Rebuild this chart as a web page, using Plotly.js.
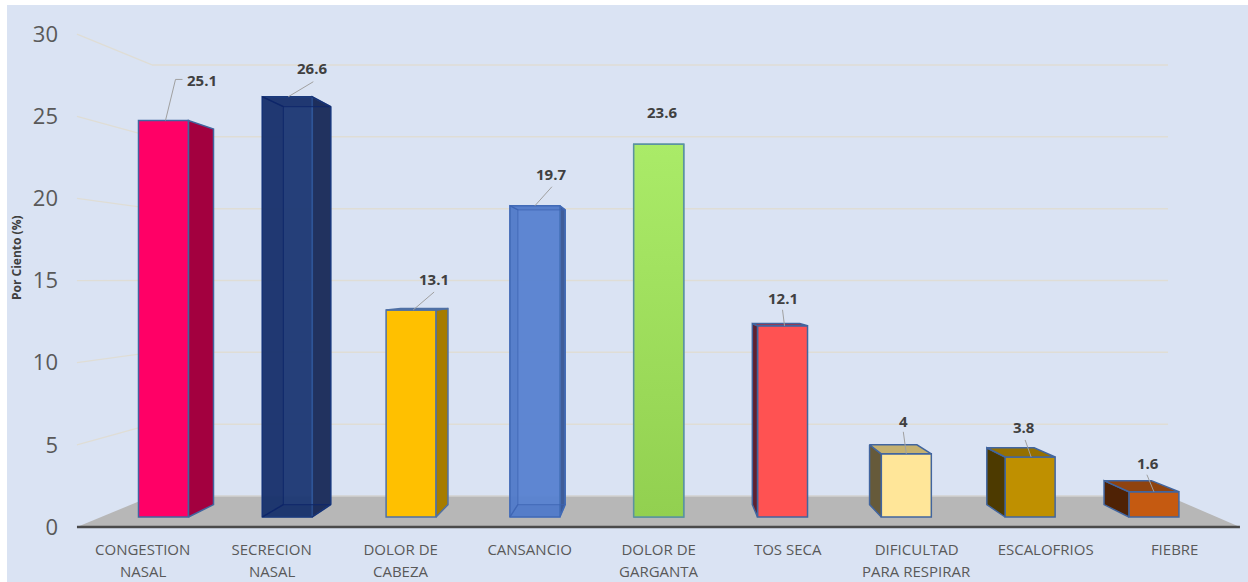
<!DOCTYPE html>
<html>
<head>
<meta charset="utf-8">
<script src="https://cdn.plot.ly/plotly-3.0.1.min.js"></script>
<style>html,body{margin:0;padding:0;background:#fff}#chart{width:1248px;height:582px}</style>
</head>
<body>
<div id="chart"></div>
<script>
// ---- data ----
var labelLine1 = ["CONGESTION","SECRECION","DOLOR DE","CANSANCIO","DOLOR DE","TOS SECA","DIFICULTAD","ESCALOFRIOS","FIEBRE"];
var labelLine2 = ["NASAL","NASAL","CABEZA","","GARGANTA","","PARA RESPIRAR","",""];
var values = [25.1,26.6,13.1,19.7,23.6,12.1,4,3.8,1.6];
var tickValues = [0,5,10,15,20,25,30];
// ---- styles ----
var frontColors = ["#FF0066","rgba(29,56,116,0.96)","#FFC000","rgba(88,130,208,0.96)","#A0DF5C","#FF5252","#FFE699","#BF9000","#C55A11"];
var sideColors  = ["#A3003F","#21325F","#A67C00","#3F5D99","#92D050","#5F2030","#665A3A","#4D3A00","#4F2205"];
var topColors   = ["#C00050","#1B3175","#C49400","#4A6FB5","#A9EA66","#A83040","#C4B06F","#957000","#8F430F"];
var borderColors= ["#41659F","#2F5597","#4F70A5","#4A75BE","#5B93A0","#41659F","#41659F","#41659F","#41659F"];
var innerLine   = [null,"rgba(14,38,105,0.75)",null,"rgba(62,100,178,0.65)",null,null,null,null,null];
var innerFill   = [null,"rgba(10,30,85,0.18)",null,"rgba(50,90,170,0.15)",null,null,null,null,null];
var seeThrough  = [false,true,false,true,false,false,false,false,false];
// label offset from bar top (px), leader polyline offsets (px)
var labelDX = [38,25,23,16,3,0,-3,-6,-6];
var labelDY = [40,29,31,32,32,28,33,30,29];
var leaders = [[[2,0],[12,41],[19,41]],[[1,0],[26,15]],[[2,0],[23,18]],[[0,0],[17,19]],null,[[2,0],[0,16]],[[0,0],[-3,22]],[[1,0],[-5,17]],[[0,0],[-7,17]]];

// ---- geometry helpers (all in axis units) ----
var pxPerCat = 123.8, pxPerVal = 15.8;
var barW = 0.404;
var vanishX = 4.01, vanishY = 14.81, depth = 0.053, labelSpread = 1.042;
function backX(x){ return x + depth*(vanishX-x); }
function backV(v){ return v + depth*(vanishY-v); }
function wallY(t){ return 1.887 + 0.8746*t; }
var wallL = -0.0929, wallR = 8.114, edgeL = -0.699, edgeR = 8.695;

var traces = [];
// floor
traces.push({type:'scatter',mode:'lines',x:[edgeL,edgeR,wallR,wallL,edgeL],y:[0,0,wallY(0),wallY(0),0],
  fill:'toself',fillcolor:'#B7B7B7',line:{width:0},hoverinfo:'skip',showlegend:false,yaxis:'y',xaxis:'x'});
// wall grid
var gx=[],gy=[],sx=[],sy=[];
tickValues.forEach(function(t){
  if(t>0){ sx.push(edgeL,wallL,null); sy.push(t,wallY(t),null);
           gx.push(wallL,wallR,null); gy.push(wallY(t),wallY(t),null); }
});
traces.push({type:'scatter',mode:'lines',x:gx,y:gy,line:{color:'#DFDDD5',width:1.5},hoverinfo:'skip',showlegend:false});
traces.push({type:'scatter',mode:'lines',x:sx,y:sy,line:{color:'#DFDDD5',width:1.3},hoverinfo:'skip',showlegend:false});
traces.push({type:'scatter',mode:'lines',x:[wallL,wallR],y:[wallY(0),wallY(0)],line:{color:'#D2D2D0',width:1.5},hoverinfo:'skip',showlegend:false});
traces.push({type:'scatter',mode:'lines',x:[edgeL,edgeR],y:[0,0],line:{color:'#4A4A4A',width:2.5},hoverinfo:'skip',showlegend:false});

// front faces
var xs = values.map(function(v,i){return i;});
traces.push({type:'bar',x:xs,y:values,width:barW,yaxis:'y2',xaxis:'x',hoverinfo:'skip',showlegend:false,
  marker:{color:frontColors,line:{color:borderColors,width:1.5}}});

function poly(px,py,fill,line,w){
  traces.push({type:'scatter',mode:'lines',x:px,y:py,yaxis:'y2',xaxis:'x',fill:fill?'toself':'none',fillcolor:fill||undefined,
    line:{color:line,width:w===undefined?1.5:w},hoverinfo:'skip',showlegend:false});
}
values.forEach(function(v,i){
  var L=i-barW/2,R=i+barW/2,bL=backX(L),bR=backX(R),bV=backV(v),b0=backV(0);
  if(bR>R) poly([R,bR,bR,R,R],[0,b0,bV,v,0],sideColors[i],borderColors[i]);
  if(bL<L) poly([L,bL,bL,L,L],[0,b0,bV,v,0],sideColors[i],borderColors[i]);
  if(bV>v) poly([L,bL,bR,R,L],[v,bV,bV,v,v],topColors[i],borderColors[i]);
  if(seeThrough[i]){
    poly([L,bL,bR,R,L],[v,bV,bV,v,v],innerFill[i],innerLine[i],1.2);          // top seen through
    poly([L,bL,bL,L,L],[0,b0,bV,v,0],innerFill[i],innerLine[i],1.2);          // left inner wall
    poly([L,bL,bR,R,L],[0,b0,b0,0,0],innerFill[i],innerLine[i],1.2);          // base
    poly([bR,bR],[b0,bV],null,innerLine[i],1.2);
  }
});
// gradient on the green bar
var g=4,gL=g-barW/2,gR=g+barW/2;
traces.push({type:'scatter',mode:'lines',x:[gL,gR,gR,gL,gL],y:[0,0,values[g],values[g],0],yaxis:'y2',xaxis:'x',fill:'toself',
  fillgradient:{type:'vertical',colorscale:[[0,'#92D050'],[1,'#AAEB68']]},line:{color:borderColors[g],width:1.5},hoverinfo:'skip',showlegend:false});

// leaders
values.forEach(function(v,i){
  if(!leaders[i]) return;
  traces.push({type:'scatter',mode:'lines',yaxis:'y2',xaxis:'x',
    x:leaders[i].map(function(p){return i+p[0]/pxPerCat;}),
    y:leaders[i].map(function(p){return v+p[1]/pxPerVal;}),
    line:{color:'#A0A0A0',width:1},hoverinfo:'skip',showlegend:false});
});

var tickPos = xs.map(function(i){return vanishX+(i-vanishX)*labelSpread;});
var annotations = [];
values.forEach(function(v,i){
  annotations.push({x:i,y:v,xref:'x',yref:'y2',text:String(v),showarrow:false,xshift:labelDX[i],yshift:labelDY[i],
    xanchor:'center',yanchor:'middle',font:{family:'Open Sans',size:15,color:'#404040',weight:700}});
  if(labelLine2[i]) annotations.push({x:tickPos[i],y:(582-571)/582,xref:'x',yref:'paper',text:labelLine2[i],showarrow:false,
    xanchor:'center',yanchor:'middle',font:{family:'Open Sans',size:15,color:'#595959'}});
});
annotations.push({x:16/1248,y:(582-258)/582,xref:'paper',yref:'paper',text:'<b>Por Ciento (%)</b>',textangle:-90,showarrow:false,
  xanchor:'center',yanchor:'middle',font:{family:'Open Sans',size:12,color:'#404040'}});

var layout = {
  width:1248,height:582,margin:{l:0,r:0,t:0,b:0,pad:0},
  paper_bgcolor:'#FFFFFF',plot_bgcolor:'rgba(0,0,0,0)',showlegend:false,barmode:'overlay',hovermode:false,
  xaxis:{range:[-1.3207,8.760],domain:[0,1],anchor:'free',position:(582-539)/582,tickmode:'array',tickvals:tickPos,ticktext:labelLine1,
    showgrid:false,zeroline:false,showline:false,ticks:'',tickfont:{family:'Open Sans',size:15,color:'#595959'},tickangle:0},
  yaxis:{range:[-3.348,32.08],domain:[0,1],anchor:'free',position:58/1248,tickmode:'array',tickvals:tickValues,
    showgrid:false,zeroline:false,showline:false,ticks:'',tickfont:{family:'Open Sans',size:22,color:'#595959'}},
  yaxis2:{range:[-4.114,32.722],domain:[0,1],overlaying:'y',visible:false,showgrid:false,zeroline:false},
  shapes:[{type:'rect',xref:'paper',yref:'paper',x0:7/1248,x1:1,y0:0,y1:(582-5)/582,fillcolor:'#DAE3F3',line:{width:0},layer:'below'}],
  annotations:annotations
};
Plotly.newPlot('chart',traces,layout,{displayModeBar:false,staticPlot:true});
</script>
</body>
</html>
